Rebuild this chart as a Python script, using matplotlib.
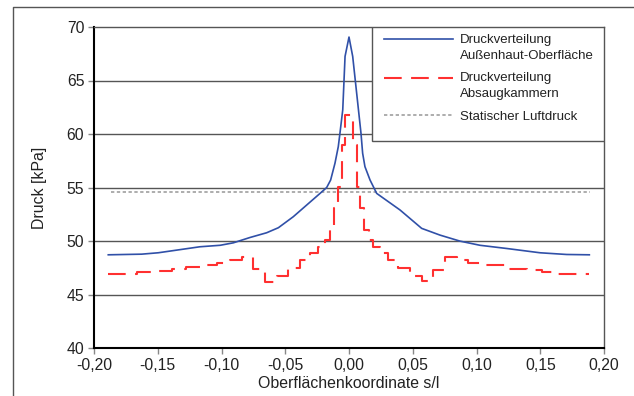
import numpy as np
import matplotlib
matplotlib.use("Agg")
from matplotlib import pyplot as plt
from matplotlib.patches import Rectangle
from matplotlib.lines import Line2D
from matplotlib.legend_handler import HandlerLine2D

plt.rcParams['font.family'] = ['Liberation Sans', 'DejaVu Sans']

# Druckverteilung Außenhaut-Oberfläche
s_haut = [-0.1888, -0.1626, -0.1496, -0.135, -0.117, -0.101, -0.0907, -0.0776,
          -0.0646, -0.0554, -0.0437, -0.0332, -0.0227, -0.0175, -0.0144, -0.011,
          -0.0084, -0.0071, -0.0049, -0.0031, 0.0, 0.0029, 0.0094, 0.0107, 0.0125,
          0.0165, 0.0217, 0.04, 0.057, 0.0714, 0.087, 0.1027, 0.1237, 0.1498,
          0.1707, 0.1885]
p_haut = [48.71, 48.77, 48.9, 49.15, 49.46, 49.6, 49.83, 50.33,
          50.77, 51.24, 52.27, 53.36, 54.45, 55.0, 55.7, 57.27,
          58.82, 60.07, 62.26, 67.25, 69.06, 67.25, 60.07, 58.2, 56.95,
          55.7, 54.45, 52.9, 51.18, 50.55, 49.99, 49.6, 49.3, 48.9,
          48.74, 48.71]

# Druckverteilung Absaugkammern (Stufen: Kanten und Werte)
s_kammer = [-0.1888, -0.1665, -0.1498, -0.1388, -0.1278, -0.1169, -0.1038, -0.0933,
            -0.0842, -0.0751, -0.0659, -0.0567, -0.0476, -0.0384, -0.0306, -0.0241,
            -0.0188, -0.0149, -0.0118, -0.0084, -0.0057, -0.0031, 0.0029, 0.0060,
            0.0086, 0.0118, 0.0153, 0.0191, 0.0243, 0.0308, 0.0387, 0.0478,
            0.0570, 0.0661, 0.0753, 0.0845, 0.0936, 0.1027, 0.1247, 0.1394,
            0.1511, 0.1629, 0.1885]
p_kammer = [46.96, 47.06, 47.21, 47.40, 47.58, 47.74, 47.96, 48.18, 48.52, 47.34,
            46.18, 46.71, 47.50, 48.21, 48.84, 49.46, 50.08, 51.08, 53.05, 55.07,
            59.0, 61.73, 59.0, 55.07, 53.1, 51.05, 50.08, 49.46, 48.84, 48.21,
            47.43, 46.71, 46.24, 47.28, 48.52, 48.21, 47.96, 47.74, 47.40, 47.28,
            47.12, 46.96]

# Statischer Luftdruck
s_luft = [-0.187, 0.189]
p_luft = [54.6, 54.6]

xticks = [-0.20, -0.15, -0.10, -0.05, 0.00, 0.05, 0.10, 0.15, 0.20]
yticks = [40, 45, 50, 55, 60, 65, 70]


class RaisedLine(HandlerLine2D):
    # Linie auf Höhe der ersten Textzeile (zweizeilige Einträge)
    def __init__(self, dy, **kw):
        super().__init__(**kw)
        self.dy = dy

    def create_artists(self, *args, **kw):
        arts = super().create_artists(*args, **kw)
        for a in arts:
            a.set_ydata(np.asarray(a.get_ydata()) + self.dy)
        return arts


fig = plt.figure(figsize=(6.34, 3.96), dpi=100)
ax = fig.add_axes([94/634, 48/396, 510/634, 321/396])

# Rahmen um den Diagrammbereich (nur oben und links sichtbar)
fig.add_artist(Line2D([13/634, 13/634, 1.0], [0.0, 1 - 7/396, 1 - 7/396],
                      transform=fig.transFigure, color='#555555', linewidth=1.0))

for y in yticks[1:-1]:
    ax.axhline(y, color='#555555', linewidth=1.0, zorder=1)

l1, = ax.plot(s_haut, p_haut, color='#3050a8', linewidth=1.2, zorder=3)
l2, = ax.step(s_kammer, p_kammer + [p_kammer[-1]], where='post', color='#ff3030',
              linewidth=1.5, dashes=(8.5, 4.5), zorder=3)
l3, = ax.plot(s_luft, p_luft, color='#a0a0a0', linewidth=1.2, dashes=(2, 1.5), zorder=2)

ax.set_xlim(-0.20, 0.20)
ax.set_ylim(40, 70)
ax.set_xticks(xticks)
ax.set_yticks(yticks)
ax.set_xticklabels([f"{v:.2f}".replace('.', ',') for v in xticks])
ax.set_yticklabels([str(v) for v in yticks])
ax.tick_params(labelsize=11.3, colors='#222222', length=4, width=1.0,
               color='#888888', pad=3)

for side in ['left', 'bottom']:
    ax.spines[side].set_color('black')
    ax.spines[side].set_linewidth(1.5)
for side in ['top', 'right']:
    ax.spines[side].set_color('#555555')
    ax.spines[side].set_linewidth(1.0)

ax.set_xlabel('Oberflächenkoordinate s/l', fontsize=11.4, color='#222222', labelpad=2)
ax.set_ylabel('Druck [kPa]', fontsize=11.4, color='#222222', labelpad=14)

# Legendenrahmen
ax.add_patch(Rectangle((278/510, 207/321), 232/510, 114/321, transform=ax.transAxes,
                       facecolor='white', edgecolor='#555555', linewidth=1.0, zorder=4))

leg = ax.legend([l1, l2, l3],
                ['Druckverteilung\nAußenhaut-Oberfläche',
                 'Druckverteilung\nAbsaugkammern',
                 'Statischer Luftdruck'],
                handler_map={l1: RaisedLine(5.9), l2: RaisedLine(5.9)},
                loc='upper left', bbox_to_anchor=(283/510, 1.0), borderaxespad=0,
                fontsize=9.5, frameon=False, handlelength=5.2,
                handletextpad=0.55, labelspacing=0.8, borderpad=0.53)
leg.set_zorder(5)
for t in leg.get_texts():
    t.set_color('#222222')
    t.set_linespacing(1.4)

fig.savefig('out.png', dpi=100)
